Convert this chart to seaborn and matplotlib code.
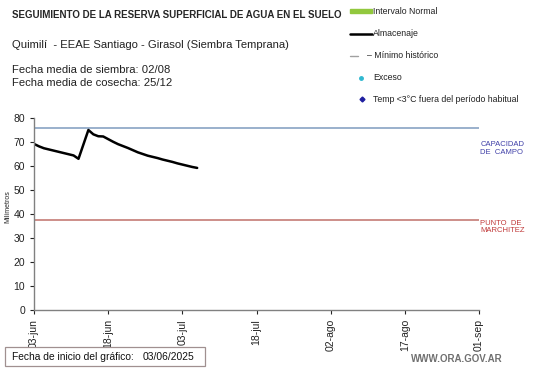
import pandas as pd
import numpy as np
import matplotlib.pyplot as plt
from matplotlib.lines import Line2D
from matplotlib.patches import Rectangle
import seaborn as sns

sns.set_style('white')
plt.rcParams['font.family'] = ['Liberation Sans', 'DejaVu Sans']

# Data
start_date = '2025-06-03'
almacenaje = [69.2, 68.2, 67.4, 66.9, 66.4, 65.9, 65.4, 64.9, 64.4, 63.0,
              69.0, 75.0, 73.2, 72.4, 72.3, 71.2, 70.1, 69.1, 68.3, 67.5,
              66.6, 65.7, 65.0, 64.3, 63.8, 63.3, 62.7, 62.2, 61.7, 61.1,
              60.6, 60.1, 59.6, 59.2]
capacidad_campo = 75.7
punto_marchitez = 37.5
tick_dates = ['2025-06-03', '2025-06-18', '2025-07-03', '2025-07-18',
              '2025-08-02', '2025-08-17', '2025-09-01']
tick_labels = ['03-jun', '18-jun', '03-jul', '18-jul', '02-ago', '17-ago', '01-sep']

df = pd.DataFrame({
    'fecha': pd.date_range(start_date, periods=len(almacenaje), freq='D'),
    'mm': almacenaje,
})
x0 = pd.Timestamp(tick_dates[0])
x1 = pd.Timestamp(tick_dates[-1])

W, H = 541, 368
fig = plt.figure(figsize=(W / 100, H / 100), dpi=100)
ax = fig.add_axes([34 / W, 1 - 310 / H, 445 / W, 192 / H])

ax.plot([x0, x1], [capacidad_campo] * 2, color='#7f9bbf', lw=1.1)
ax.plot([x0, x1], [punto_marchitez] * 2, color='#c0706a', lw=1.1)
sns.lineplot(data=df, x='fecha', y='mm', ax=ax, color='black', lw=1.8)

ax.set_xlim(x0, x1)
ax.set_ylim(0, 80)
ax.set_yticks(range(0, 81, 10))
ax.set_xticks(pd.to_datetime(tick_dates))
ax.set_xticklabels(tick_labels, rotation=90, fontsize=7.5, color='#222222')
ax.tick_params(axis='y', labelsize=7.5, colors='#222222', length=3, direction='out', left=True)
ax.tick_params(axis='x', length=3, direction='out', bottom=True)
ax.set_xlabel('')
ax.set_ylabel('Milímetros', fontsize=5)
ax.yaxis.set_label_coords(-0.051, 0.54)
for s in ['top', 'right']:
    ax.spines[s].set_visible(False)
for s in ['left', 'bottom']:
    ax.spines[s].set_color('#808080')
    ax.spines[s].set_linewidth(1.0)

ax.text(1.003, 0.88, 'CAPACIDAD\nDE  CAMPO', transform=ax.transAxes, fontsize=5.5,
        color='#4040a8', va='top', linespacing=1.1)
ax.text(1.003, 0.469, 'PUNTO  DE\nMARCHITEZ', transform=ax.transAxes, fontsize=5.5,
        color='#c03838', va='top', linespacing=1.1)

# header texts
fig.text(12 / W, 1 - 15 / H, 'SEGUIMIENTO DE LA RESERVA SUPERFICIAL DE AGUA EN EL SUELO',
         fontsize=7, fontweight='bold', va='center')
fig.text(12 / W, 1 - 45 / H, 'Quimilí  - EEAE Santiago - Girasol (Siembra Temprana)',
         fontsize=8.1, va='center', color='#222222')
fig.text(12 / W, 1 - 70 / H, 'Fecha media de siembra: 02/08', fontsize=8.1, va='center', color='#222222')
fig.text(12 / W, 1 - 83 / H, 'Fecha media de cosecha: 25/12', fontsize=8.1, va='center', color='#222222')

# legend block
fig.patches.append(Rectangle((350 / W, 1 - 13 / H), 22 / W, 4 / H,
                             transform=fig.transFigure, color='#92c83e'))
fig.add_artist(Line2D([350 / W, 372 / W], [1 - 34 / H] * 2, color='black', lw=1.8))
fig.add_artist(Line2D([350 / W, 358 / W], [1 - 55.5 / H] * 2, color='#a0a0a0', lw=1.0))
fig.add_artist(Line2D([360.5 / W], [1 - 77.5 / H], marker='o', ms=2.5, color='#30b8d0', lw=0))
fig.add_artist(Line2D([361.5 / W], [1 - 99 / H], marker='D', ms=2.5, color='#1f1fa0', lw=0))
leg_items = [(11.5, 'Intervalo Normal', 373), (34, 'Almacenaje', 373), (55.5, '– Mínimo histórico', 367),
             (77, 'Exceso', 373), (99, 'Temp <3°C fuera del período habitual', 373)]
for y, txt, x in leg_items:
    fig.text(x / W, 1 - y / H, txt, fontsize=6.3, va='center', color='#222222')

# footer
fig.patches.append(Rectangle((5 / W, 1 - 366 / H), 200 / W, 19 / H, transform=fig.transFigure,
                             fc='white', ec='#a09090', lw=0.9))
fig.text(12 / W, 1 - 356.5 / H, 'Fecha de inicio del gráfico:', fontsize=7.4, va='center', color='#111111')
fig.text(143 / W, 1 - 356.5 / H, '03/06/2025', fontsize=7.4, va='center', color='#111111')
fig.text(503 / W, 1 - 359 / H, 'WWW.ORA.GOV.AR', fontsize=7, fontweight='bold', ha='right',
         va='center', color='#707070')

fig.savefig('out.png', dpi=100)
